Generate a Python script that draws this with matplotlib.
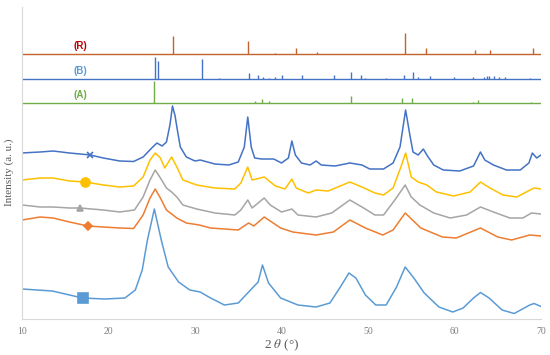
import matplotlib
matplotlib.use("Agg")
import matplotlib.pyplot as plt

plt.rcParams["mathtext.fontset"] = "stix"

# ---------------- data ----------------
# Reference stick patterns (2theta, relative height)
ref_R_pos = [27.45, 36.1, 39.2, 41.7, 44.1, 54.3, 56.7, 62.4, 64.1, 69.1]
ref_R_h   = [18, 13, 1.5, 6, 2, 21, 6, 4, 4, 6]
ref_B_pos = [25.35, 25.7, 30.8, 32.8, 36.25, 37.3, 37.9, 38.6, 39.2, 40.1, 42.35,
             46.05, 48.0, 49.2, 49.7, 52.1, 54.2, 55.2, 55.8, 57.2, 59.9, 62.1,
             63.4, 63.7, 64.0, 64.6, 65.1, 65.8, 68.7]
ref_B_h   = [22, 18, 20, 1, 6, 4, 2, 1.5, 2, 4, 4,
             4, 7, 4, 1, 1, 4, 7, 2, 3, 2, 2,
             2, 3, 3, 3, 2, 2, 1.5]
ref_A_pos = [25.3, 36.9, 37.8, 38.5, 48.05, 53.9, 55.05, 62.1, 62.7, 68.8]
ref_A_h   = [22, 2, 4, 2, 7, 5, 5, 1, 3, 1]
ref_labels = ["(R)", "(B)", "(A)"]
ref_base = [264.7, 240, 215.7]

# Sample patterns (stacked intensities, a.u.)
tt1 = [10.0, 11.0, 12.1, 13.6, 15.5, 17.9, 19.4, 21.3, 22.9, 24.0, 25.0, 25.6, 26.2,
       26.7, 27.1, 27.4, 27.7, 27.9, 28.3, 29.0, 30.0, 30.6, 32.3, 33.9, 35.0, 35.7,
       36.1, 36.5, 36.9, 37.7, 39.1, 40.0, 40.8, 41.2, 41.6, 42.3, 43.3, 44.0, 44.6,
       46.2, 47.9, 49.3, 50.2, 51.8, 52.9, 53.7, 54.35, 54.8, 55.2, 55.8, 56.4, 56.8,
       57.6, 58.7, 60.6, 62.2, 63.0, 63.5, 64.5, 66.0, 67.6, 68.6, 69.0, 69.5, 70.0]
int1 = [166, 166.5, 167, 168, 166, 164, 161, 158, 157.5, 162, 171, 176, 173,
        177, 194, 213, 203, 192, 172, 162, 158, 159, 155, 154, 157, 172,
        202, 172, 161, 160, 160, 156, 161, 178, 164, 156, 154, 158, 154,
        153, 156, 154, 150, 150, 156, 172, 209, 186, 167, 164, 170, 164,
        154, 149, 148, 153, 167, 159, 154, 149, 149, 156, 166, 161, 164]

tt2 = [10.0, 12.1, 13.6, 15.5, 17.3, 19.4, 21.3, 22.9, 24.0, 24.8, 25.4, 26.0, 26.5,
       27.3, 27.9, 28.6, 30.2, 32.3, 34.6, 35.3, 36.1, 36.6, 37.1, 38.0, 39.3, 40.4,
       41.2, 41.7, 43.1, 44.0, 45.4, 47.9, 49.3, 50.8, 51.8, 52.9, 53.8, 54.35, 55.0,
       55.8, 56.8, 57.9, 59.9, 61.8, 63.0, 64.1, 65.6, 67.2, 68.3, 69.2, 70.0]
int2 = [139, 141, 141, 138, 137, 134, 132, 133, 142, 159, 166, 161, 151,
        162, 152, 139, 134, 131, 130, 136, 152, 139, 140, 142, 133, 130,
        140, 131, 126, 129, 128, 137, 132, 126, 124, 131, 152, 166, 142,
        137, 134, 127, 123, 127, 137, 131, 124, 122, 127, 131, 130]

tt3 = [10.0, 12.1, 13.6, 15.5, 16.7, 19.4, 21.3, 23.0, 24.0, 24.8, 25.4, 26.0, 26.7,
       27.3, 27.9, 28.6, 30.2, 32.3, 34.6, 35.3, 36.1, 36.6, 37.3, 38.0, 38.7, 40.0,
       41.2, 41.9, 44.0, 45.8, 47.9, 49.3, 50.8, 51.8, 53.1, 54.3, 55.0, 56.0, 57.6,
       59.5, 61.4, 63.0, 64.5, 66.4, 67.9, 68.9, 70.0]
int3 = [114, 112, 112, 111, 111, 109, 107, 109, 122, 139, 149, 141, 131,
        127, 122, 114, 110, 106, 104, 109, 119, 111, 116, 121, 114, 107,
        110, 104, 102, 106, 119, 112, 104, 104, 119, 134, 122, 114, 106,
        101, 104, 112, 107, 101, 101, 106, 105]

tt4 = [10.0, 12.1, 13.6, 15.5, 17.6, 19.4, 21.3, 22.9, 24.0, 24.8, 25.4, 26.0, 26.7,
       27.9, 29.0, 30.5, 31.8, 35.0, 36.2, 36.8, 38.0, 39.9, 41.3, 44.0, 46.0, 47.9,
       49.7, 51.7, 52.9, 54.3, 56.1, 58.6, 60.2, 63.0, 65.0, 66.6, 68.7, 70.0]
int4 = [99, 102, 101, 97, 93, 92, 91, 90.5, 104, 121, 130, 121, 109,
        101, 96, 94, 91, 89, 96, 93, 102, 91, 87, 84, 87, 99,
        91, 84, 89, 106, 91, 82, 81, 91, 82, 79, 84, 83]

tt5 = [10.0, 13.5, 17.0, 19.6, 21.9, 23.1, 23.9, 24.5, 25.3, 26.1, 26.9, 28.1, 29.4,
       30.6, 31.8, 33.4, 35.0, 36.2, 37.3, 37.8, 38.5, 39.9, 41.9, 44.0, 45.6, 46.8,
       47.8, 48.6, 49.7, 50.9, 52.1, 53.3, 54.3, 55.3, 56.5, 58.2, 59.8, 61.0, 62.2,
       63.0, 64.0, 65.5, 66.9, 68.7, 69.2, 70.0]
int5 = [30, 28, 21, 20, 21, 29, 49, 79, 110, 79, 52, 37, 29,
        27, 21, 14, 16, 27, 37, 54, 36, 21, 14, 12, 16, 32,
        46, 41, 24, 14, 14, 32, 52, 41, 26, 12, 7, 11, 21,
        26.5, 21, 9, 5.5, 14, 15.5, 12.5]

x_ticks = [10, 20, 30, 40, 50, 60, 70]

# ---------------- figure ----------------
fig = plt.figure(figsize=(5.5, 3.55), dpi=100)
ax = fig.add_axes([22/550, 1 - 319/355, (541 - 22)/550, (319 - 7)/355])

# reference sticks
ref_sets = [(ref_R_pos, ref_R_h, "#C4622D", "#C00000"),
            (ref_B_pos, ref_B_h, "#4472C4", "#5B9BD5"),
            (ref_A_pos, ref_A_h, "#70AD47", "#70AD47")]
for (pos, h, lc, tc), base, lab in zip(ref_sets, ref_base, ref_labels):
    ax.plot([10, 70], [base, base], color=lc, lw=1.0, solid_capstyle="butt")
    ax.vlines(pos, base, [base + v for v in h], color=lc, lw=1.0)
    ax.text(16.8, base + 8, lab, color=tc, fontsize=7, fontweight="bold",
            ha="center", va="center", family="Liberation Sans")

# samples
series = [(tt1, int1, "#4472C4", "x", 5, 5),
          (tt2, int2, "#FFC000", "o", 4, 6.5),
          (tt3, int3, "#A5A5A5", "^", 4, 5),
          (tt4, int4, "#ED7D31", "D", 4, 4.5),
          (tt5, int5, "#5B9BD5", "s", 2, 6.5)]
for tt, iv, c, m, mi, ms in series:
    ax.plot(tt, iv, color=c, lw=1.1, marker=m, markevery=[mi], markersize=ms,
            markeredgecolor=c, markerfacecolor=c, markeredgewidth=1.2)

ax.set_xlim(10, 70)
ax.set_ylim(0, 312)
ax.set_xticks(x_ticks)
ax.set_xticklabels([str(t) for t in x_ticks], family="Liberation Serif",
                   fontsize=7, color="#7F7F7F")
ax.set_yticks([])
ax.tick_params(axis="x", length=0, pad=6)
for s in ["top", "right"]:
    ax.spines[s].set_visible(False)
for s in ["left", "bottom"]:
    ax.spines[s].set_color("#D9D9D9")
    ax.spines[s].set_linewidth(0.8)

ax.set_xlabel(r"2 $\theta$ (°)", family="Liberation Serif", fontsize=9.5,
              color="#595959", labelpad=1)
ax.set_ylabel("Intensity (a. u.)", family="Liberation Serif", fontsize=8,
              color="#595959")
ax.yaxis.set_label_coords(-0.016, 0.47)

fig.savefig("out.png", dpi=100)
